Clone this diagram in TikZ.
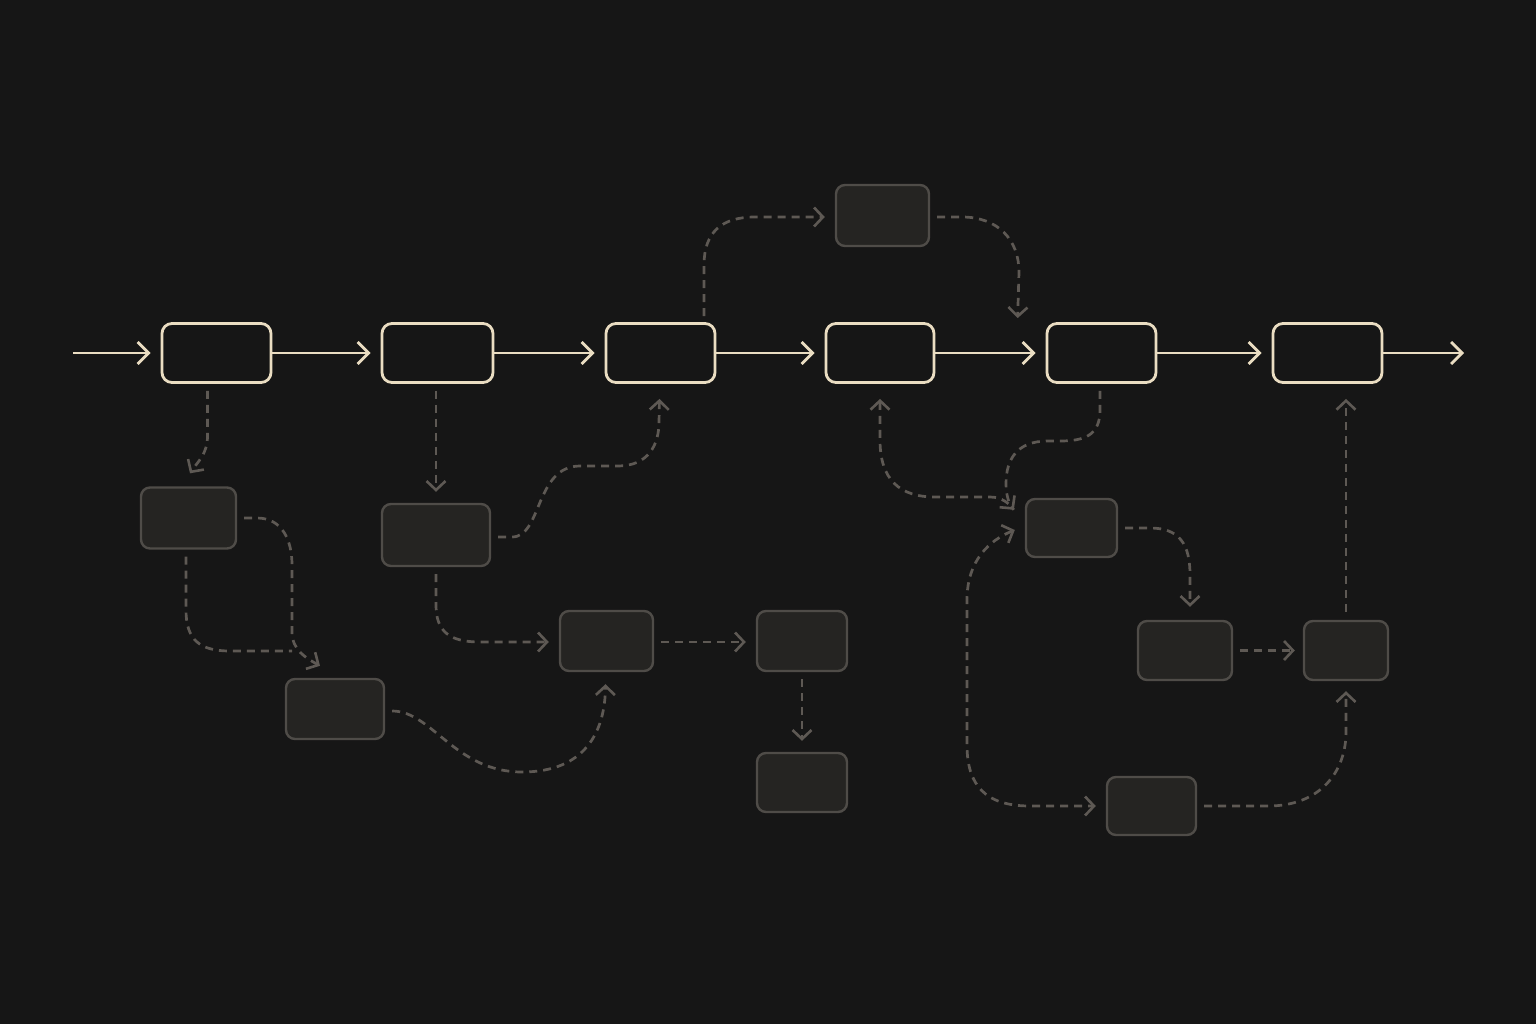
\documentclass[tikz,border=0pt]{standalone}
\usetikzlibrary{arrows.meta,calc}
\definecolor{bg}{HTML}{161616}
\definecolor{cream}{HTML}{EADDC2}
\definecolor{gbox}{HTML}{252422}
\definecolor{gedge}{HTML}{4F4C48}
\definecolor{gline}{HTML}{5E5954}
\tikzset{
  mainbox/.style={draw=cream, fill=bg, line width=2.8pt, rounded corners=10pt,
    minimum width=109pt, minimum height=59pt, inner sep=0pt},
  sidebox/.style={draw=gedge, fill=gbox, line width=2.4pt, rounded corners=9pt,
    inner sep=0pt},
  mtip/.tip={Straight Barb[length=11pt,width=22pt,line width=2.8pt]},
  dtip/.tip={Straight Barb[length=9pt,width=19pt,line width=2.6pt]},
  mainarrow/.style={draw=cream, line width=2.6pt, -mtip},
  dl/.style={draw=gline, line width=2.7pt, dash pattern=on 8pt off 6pt, -dtip},
  dlplain/.style={draw=gline, line width=2.7pt, dash pattern=on 8pt off 6pt},
}
\begin{document}
\begin{tikzpicture}[x=1pt,y=-1pt]
\fill[bg] (0,0) rectangle (1536,1024);
\useasboundingbox (0,0) rectangle (1536,1024);

% main row
\node[mainbox] (m1) at (216.5,353) {};
\node[mainbox, minimum width=111pt] (m2) at (437.5,353) {};
\node[mainbox] (m3) at (660.5,353) {};
\node[mainbox, minimum width=108pt] (m4) at (880,353) {};
\node[mainbox] (m5) at (1101.5,353) {};
\node[mainbox] (m6) at (1327.5,353) {};
\coordinate (in) at (73,353);
\coordinate (out) at (1464,353);

% side boxes
\node[sidebox, minimum width=95pt, minimum height=61pt] (A) at (188.5,518) {};
\node[sidebox, minimum width=98pt, minimum height=60pt] (B) at (335,709) {};
\node[sidebox, minimum width=108pt, minimum height=62pt] (C) at (436,535) {};
\node[sidebox, minimum width=93pt, minimum height=60pt] (D) at (606.5,641) {};
\node[sidebox, minimum width=90pt, minimum height=60pt] (E) at (802,641) {};
\node[sidebox, minimum width=90pt, minimum height=59pt] (F) at (802,782.5) {};
\node[sidebox, minimum width=93pt, minimum height=61pt] (G) at (882.5,215.5) {};
\node[sidebox, minimum width=91pt, minimum height=58pt] (H) at (1071.5,528) {};
\node[sidebox, minimum width=94pt, minimum height=59pt] (I) at (1185,650.5) {};
\node[sidebox, minimum width=84pt, minimum height=59pt] (J) at (1346,650.5) {};
\node[sidebox, minimum width=89pt, minimum height=58pt] (K) at (1151.5,806) {};

% main arrows
\draw[mainarrow, shorten >=10pt] (in) -- (m1.west);
\foreach \a/\b in {m1/m2,m2/m3,m3/m4,m4/m5,m5/m6}
  \draw[mainarrow, shorten >=10pt] (\a.east) -- (\b.west);
\draw[mainarrow] (m6.east) -- (out);

% dashed connectors
\draw[dl] ($(m1.south)+(-9,7)$) -- ++(0,45)
  .. controls +(0,18) and +(8,-12) .. ($(A.north)+(1.5,-13)$);
\draw[dl] ($(A.east)+(7,0)$) -- (257,518)
  .. controls (282,518) and (292,540) .. (292,565) -- (292,632)
  .. controls (292,650) and (306,658) .. ($(B.north)+(-15,-12)$);
\draw[dlplain] ($(A.south)+(-2.5,7)$) -- (186,610)
  .. controls (186,640) and (200,651) .. (230,651) -- (292,651);
\draw[dl] ($(m2.south)+(-1.5,7)$) -- ($(C.north)+(0,-11)$);
\draw[dl] ($(C.east)+(7,2)$) -- (512,537)
  .. controls (542,537) and (535,466) .. (580,466) -- (618,466)
  .. controls (648,466) and (659,445) .. (659,422) -- ($(m3.south)+(-1,15)$);
\draw[dl] ($(C.south)+(0,7)$) -- (436,605)
  .. controls (436,632) and (450,642) .. (480,642) -- ($(D.west)+(-10,1)$);
\draw[dl] ($(D.east)+(7,1)$) -- ($(E.west)+(-10,1)$);
\draw[dl] ($(E.south)+(0,7)$) -- ($(F.north)+(0,-11)$);
\draw[dl] ($(B.east)+(7,2)$)
  .. controls (432,711) and (455,772) .. (522,772)
  .. controls (585,772) and (605,732) .. ($(D.south)+(-1,12)$);
\draw[dl] ($(m3.north)+(43.5,-6)$) -- (704,265)
  .. controls (704,232) and (722,217) .. (755,217) -- ($(G.west)+(-10,1.5)$);
\draw[dl] ($(G.east)+(7,1.5)$) -- (962,217)
  .. controls (998,217) and (1019,240) .. (1019,272) -- ($(m5.north west)+(-28,-4)$);
\draw[dlplain, dtip-]
  ($(m4.south)+(0,15)$) -- (880,440)
  .. controls (880,480) and (900,497) .. (935,497) -- (990,497)
  .. controls (1002,497) and (1010,504) .. ($(H.north west)+(-11,12)$);
\draw[dl] ($(m5.south)+(-1.5,7)$) -- (1100,410)
  .. controls (1100,435) and (1085,441) .. (1060,441) -- (1048,441)
  .. controls (1018,441) and (1006,458) .. (1006,484)
  .. controls (1006,497) and (1010,505) .. ($(H.north west)+(-11,12)$);
\draw[dl, dtip-dtip]
  ($(H.west)+(-10,2)$) .. controls (990,540) and (967,560) .. (967,600)
  -- (967,745) .. controls (967,785) and (985,806) .. (1030,806)
  -- ($(K.west)+(-10,0)$);
\draw[dl] ($(H.east)+(7,0)$) -- (1150,528)
  .. controls (1180,528) and (1190,545) .. (1190,575) -- ($(I.north)+(5,-13)$);
\draw[dl] ($(I.east)+(7,0)$) -- ($(J.west)+(-8,0)$);
\draw[dl] ($(J.north)+(0,-8)$) -- ($(m6.south)+(18.5,15)$);
\draw[dl] ($(K.east)+(7,0)$) -- (1268,806)
  .. controls (1320,806) and (1346,772) .. (1346,732) -- ($(J.south)+(0,10)$);
\end{tikzpicture}
\end{document}
